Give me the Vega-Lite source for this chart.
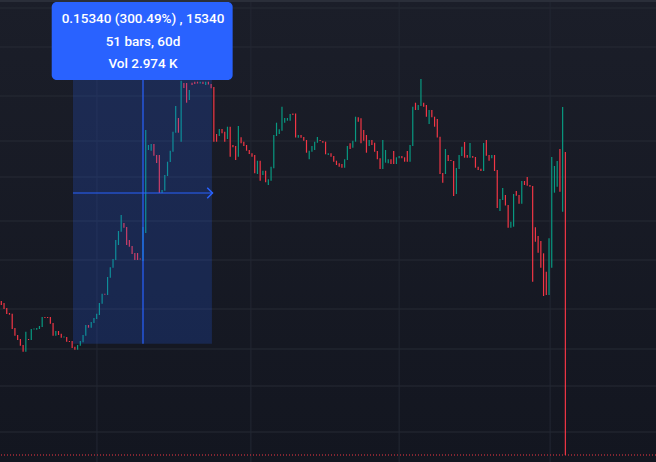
{
  "$schema": "https://vega.github.io/schema/vega-lite/v6.json",
  "width": 656,
  "height": 462,
  "padding": 0,
  "autosize": {"type": "none"},
  "background": "#161a25",
  "config": {"view": {"stroke": null}},
  "datasets": {
    "candles": [
      {"bar":0,"o":161,"c":157},{"bar":1,"o":159,"c":153},{"bar":2,"o":154,"c":148},{"bar":3,"o":149,"c":147.3},{"bar":4,"o":148.3,"c":133},
      {"bar":5,"o":134,"c":126.3},{"bar":6,"o":127,"c":122},{"bar":7,"o":123,"c":116.3},{"bar":8,"o":117,"c":110.3},{"bar":9,"o":110.3,"c":130.3},
      {"bar":10,"o":123,"c":122},{"bar":11,"o":122,"c":133},{"bar":12,"o":132.5,"c":133.5},{"bar":13,"o":132.3,"c":134},{"bar":14,"o":133,"c":136},
      {"bar":15,"o":135,"c":145},{"bar":16,"o":145,"c":144},{"bar":17,"o":145,"c":144},{"bar":18,"o":145,"c":138.3},{"bar":19,"o":139,"c":126.3},
      {"bar":20,"o":126.3,"c":131},{"bar":21,"o":131,"c":127},{"bar":22,"o":128.3,"c":124.3},{"bar":23,"o":124.5,"c":125.5},{"bar":24,"o":125,"c":120.3},
      {"bar":25,"o":121,"c":120},{"bar":26,"o":121,"c":114},{"bar":27,"o":115.3,"c":112.3},{"bar":28,"o":112.3,"c":117},{"bar":29,"o":116.3,"c":121},
      {"bar":30,"o":119.7,"c":127},{"bar":31,"o":126.3,"c":137},{"bar":32,"o":137,"c":134.3},{"bar":33,"o":134.3,"c":140},{"bar":34,"o":139,"c":144},
      {"bar":35,"o":143,"c":148.3},{"bar":36,"o":147,"c":159},{"bar":37,"o":158.3,"c":168.3},{"bar":38,"o":168.3,"c":167.3},{"bar":39,"o":167,"c":185},
      {"bar":40,"o":184.3,"c":194.7},{"bar":41,"o":194.3,"c":203},{"bar":42,"o":202,"c":222},{"bar":43,"o":217,"c":231},{"bar":44,"o":230.3,"c":247},
      {"bar":45,"o":239,"c":234.3},{"bar":46,"o":235,"c":217},{"bar":47,"o":222,"c":215.3},{"bar":48,"o":216,"c":208},{"bar":49,"o":209,"c":202},
      {"bar":50,"o":209,"c":202},{"bar":51,"o":203.5,"c":202.5},{"bar":52,"o":201,"c":235},{"bar":53,"o":229,"c":332},{"bar":54,"o":312,"c":317},
      {"bar":55,"o":311.3,"c":318},{"bar":56,"o":318,"c":306.3},{"bar":57,"o":307,"c":299},{"bar":58,"o":307,"c":269},{"bar":59,"o":269,"c":272},
      {"bar":60,"o":271.3,"c":287},{"bar":61,"o":286,"c":300.3},{"bar":62,"o":300,"c":311.3},{"bar":63,"o":310.3,"c":330.3},{"bar":64,"o":329.3,"c":356},
      {"bar":65,"o":344,"c":329.3},{"bar":66,"o":320.3,"c":381.3},{"bar":67,"o":379,"c":374},{"bar":68,"o":379,"c":359.3},{"bar":69,"o":362,"c":372},
      {"bar":70,"o":379.3,"c":377},{"bar":71,"o":380.3,"c":378},{"bar":72,"o":380.3,"c":378.5},{"bar":73,"o":378.5,"c":380.3},{"bar":74,"o":380.3,"c":378},
      {"bar":75,"o":377,"c":380.3},{"bar":76,"o":380.3,"c":377.5},{"bar":77,"o":378,"c":373.7},{"bar":78,"o":375,"c":320.3},{"bar":79,"o":328,"c":320.3},
      {"bar":80,"o":326,"c":333},{"bar":81,"o":333,"c":328.7},{"bar":82,"o":330.3,"c":320.3},{"bar":83,"o":323,"c":335.3},{"bar":84,"o":335.3,"c":305.3},
      {"bar":85,"o":317,"c":314.7},{"bar":86,"o":316,"c":302},{"bar":87,"o":305.3,"c":336},{"bar":88,"o":324.7,"c":318.7},{"bar":89,"o":320.3,"c":316},
      {"bar":90,"o":317,"c":311.3},{"bar":91,"o":312,"c":308},{"bar":92,"o":308.7,"c":305.3},{"bar":93,"o":307,"c":288.7},{"bar":94,"o":288,"c":301.3},
      {"bar":95,"o":301.3,"c":281.3},{"bar":96,"o":287,"c":291.3},{"bar":97,"o":291.3,"c":279.7},{"bar":98,"o":277,"c":282.7},{"bar":99,"o":281.3,"c":295.3},
      {"bar":100,"o":293.7,"c":327},{"bar":101,"o":326,"c":339.3},{"bar":102,"o":328,"c":332.7},{"bar":103,"o":331.3,"c":355.3},{"bar":104,"o":339.3,"c":344},
      {"bar":105,"o":341.3,"c":344},{"bar":106,"o":341.3,"c":348},{"bar":107,"o":348.5,"c":347},{"bar":108,"o":348.5,"c":324.5},{"bar":109,"o":324.3,"c":327},
      {"bar":110,"o":327,"c":324.3},{"bar":111,"o":325,"c":321.3},{"bar":112,"o":322,"c":309.3},{"bar":113,"o":302.7,"c":311.3},{"bar":114,"o":310.3,"c":316},
      {"bar":115,"o":312,"c":320.3},{"bar":116,"o":319.3,"c":325},{"bar":117,"o":322,"c":321},{"bar":118,"o":321,"c":319.3},{"bar":119,"o":320.3,"c":307.7},
      {"bar":120,"o":307,"c":308.7},{"bar":121,"o":308.7,"c":305.3},{"bar":122,"o":306,"c":300.3},{"bar":123,"o":301.3,"c":297},{"bar":124,"o":298.7,"c":295.3},
      {"bar":125,"o":298,"c":294.3},{"bar":126,"o":294.3,"c":302.7},{"bar":127,"o":302,"c":316},{"bar":128,"o":318.7,"c":313},{"bar":129,"o":314.3,"c":321.3},
      {"bar":130,"o":320.3,"c":345.3},{"bar":131,"o":344.7,"c":340.3},{"bar":132,"o":343.7,"c":318.7},{"bar":133,"o":332,"c":321.3},{"bar":134,"o":327,"c":309.3},
      {"bar":135,"o":316,"c":322},{"bar":136,"o":322,"c":317},{"bar":137,"o":319.3,"c":310.3},{"bar":138,"o":311,"c":302.7},{"bar":139,"o":303.7,"c":293},
      {"bar":140,"o":293,"c":322},{"bar":141,"o":299.3,"c":312},{"bar":142,"o":298.7,"c":302.7},{"bar":143,"o":302.7,"c":298},{"bar":144,"o":311,"c":298},
      {"bar":145,"o":298,"c":304.7},{"bar":146,"o":303.7,"c":306},{"bar":147,"o":306,"c":303.7},{"bar":148,"o":304.7,"c":300.3},{"bar":149,"o":311,"c":300.3},
      {"bar":150,"o":300.3,"c":317},{"bar":151,"o":316,"c":355.3},{"bar":152,"o":359.3,"c":352},{"bar":153,"o":352,"c":357},{"bar":154,"o":356,"c":383},
      {"bar":155,"o":359.3,"c":355.3},{"bar":156,"o":357,"c":345.3},{"bar":157,"o":338,"c":352},{"bar":158,"o":352,"c":344.7},{"bar":159,"o":345.3,"c":335.3},
      {"bar":160,"o":343,"c":324.5},{"bar":161,"o":325.3,"c":288},{"bar":162,"o":289,"c":279.3},{"bar":163,"o":288,"c":313},{"bar":164,"o":307,"c":301},
      {"bar":165,"o":302,"c":301},{"bar":166,"o":301,"c":266},{"bar":167,"o":268,"c":294},{"bar":168,"o":293,"c":307},{"bar":169,"o":306,"c":315.3},
      {"bar":170,"o":320,"c":304.3},{"bar":171,"o":307,"c":304.3},{"bar":172,"o":304.3,"c":319},{"bar":173,"o":306,"c":304.3},{"bar":174,"o":305,"c":294.3},
      {"bar":175,"o":295.3,"c":292},{"bar":176,"o":293.3,"c":291},{"bar":177,"o":291,"c":319},{"bar":178,"o":322,"c":306.3},{"bar":179,"o":307,"c":301.3},
      {"bar":180,"o":303.7,"c":307},{"bar":181,"o":307,"c":291},{"bar":182,"o":292,"c":254},{"bar":183,"o":251,"c":263},{"bar":184,"o":262,"c":274},
      {"bar":185,"o":267,"c":256.5},{"bar":186,"o":257,"c":234.3},{"bar":187,"o":234.3,"c":240.3},{"bar":188,"o":235.3,"c":268},{"bar":189,"o":271,"c":266.3},
      {"bar":190,"o":267,"c":258.3},{"bar":191,"o":258.3,"c":281},{"bar":192,"o":281,"c":277},{"bar":193,"o":285,"c":276.3},{"bar":194,"o":277,"c":275.3},
      {"bar":195,"o":276,"c":180.3},{"bar":196,"o":234.7,"c":220.3},{"bar":197,"o":226,"c":209.3},{"bar":198,"o":221,"c":194.3},{"bar":199,"o":208.7,"c":166},
      {"bar":200,"o":190.3,"c":167},{"bar":201,"o":167,"c":223.7},{"bar":202,"o":194.3,"c":305},{"bar":203,"o":269.3,"c":296},{"bar":204,"o":275.3,"c":301},
      {"bar":205,"o":313,"c":270.3},{"bar":206,"o":250.3,"c":355},{"bar":207,"o":310,"c":7}
    ]
  },
  "encoding": {
    "x": {"type": "quantitative", "scale": {"domain": [-0.477, 240.26], "nice": false, "zero": false}, "axis": null},
    "y": {"type": "quantitative", "scale": {"domain": [0, 462], "nice": false, "zero": false}, "axis": null}
  },
  "layer": [
    {
      "data": {"values": [{"k": 1}]},
      "mark": {"type": "rect", "color": {"gradient": "linear", "x1": 0, "y1": 0, "x2": 0, "y2": 1, "stops": [{"offset": 0, "color": "#1b1e29"}, {"offset": 1, "color": "#131620"}]}},
      "encoding": {"x": null, "y": null}
    },
    {
      "data": {"values": [{"p":454},{"p":415},{"p":366},{"p":321},{"p":285},{"p":241},{"p":202},{"p":153},{"p":113},{"p":76},{"p":30}]},
      "mark": {"type": "rule", "color": "#262a35", "strokeWidth": 1},
      "encoding": {"y": {"field": "p"}}
    },
    {
      "data": {"values": [{"bar":35.1},{"bar":91.6},{"bar":146},{"bar":201.4}]},
      "mark": {"type": "rule", "color": "#232733", "strokeWidth": 1},
      "encoding": {"x": {"field": "bar"}}
    },
    {
      "data": {"values": [{"p": 461}]},
      "mark": {"type": "rule", "color": "#2a2e39", "strokeWidth": 2},
      "encoding": {"y": {"field": "p"}}
    },
    {
      "data": {"name": "candles"},
      "mark": {"type": "rule", "strokeWidth": 1.2},
      "encoding": {
        "x": {"field": "bar"},
        "y": {"field": "o"},
        "y2": {"field": "c"},
        "color": {"condition": {"test": "datum.c >= datum.o", "value": "#089981"}, "value": "#f23645"}
      }
    },
    {
      "data": {"values": [{"p": 7}]},
      "mark": {"type": "rule", "color": "#f23645", "strokeWidth": 1, "strokeDash": [1, 2]},
      "encoding": {"y": {"field": "p"}}
    },
    {
      "data": {"values": [{"b0": 26.3, "b1": 77.3, "p0": 118.3, "p1": 421}]},
      "mark": {"type": "rect", "color": "#2962ff", "opacity": 0.2},
      "encoding": {"x": {"field": "b0"}, "x2": {"field": "b1"}, "y": {"field": "p0"}, "y2": {"field": "p1"}}
    },
    {
      "data": {"values": [{"bar": 52, "p0": 118.3, "p1": 421}]},
      "mark": {"type": "rule", "color": "#2962ff", "strokeWidth": 1.2},
      "encoding": {"x": {"field": "bar"}, "y": {"field": "p0"}, "y2": {"field": "p1"}}
    },
    {
      "data": {"values": [{"b0": 26.3, "b1": 77.5, "p": 269}]},
      "mark": {"type": "rule", "color": "#2962ff", "strokeWidth": 1},
      "encoding": {"x": {"field": "b0"}, "x2": {"field": "b1"}, "y": {"field": "p"}}
    },
    {
      "data": {"values": [{"bar": 77.5, "p": 269}]},
      "mark": {"type": "point", "shape": "M-1,-1L0,0L-1,1", "size": 110, "filled": false, "stroke": "#2962ff", "strokeWidth": 1.5, "opacity": 1},
      "encoding": {"x": {"field": "bar"}, "y": {"field": "p"}}
    },
    {
      "data": {"values": [{"b0": 18.5, "b1": 84.9, "p0": 382, "p1": 460}]},
      "mark": {"type": "rect", "color": "#2962ff", "cornerRadius": 5, "opacity": 1},
      "encoding": {"x": {"field": "b0"}, "x2": {"field": "b1"}, "y": {"field": "p0"}, "y2": {"field": "p1"}}
    },
    {
      "data": {"values": [
        {"bar": 52, "p": 442.7, "t": "0.15340 (300.49%) , 15340"},
        {"bar": 52, "p": 419.7, "t": "51 bars, 60d"},
        {"bar": 52, "p": 398, "t": "Vol 2.974 K"}
      ]},
      "mark": {"type": "text", "font": "Roboto", "fontSize": 13.5, "fontWeight": 500, "color": "#ffffff", "align": "center", "baseline": "middle"},
      "encoding": {"x": {"field": "bar"}, "y": {"field": "p"}, "text": {"field": "t"}}
    }
  ]
}
